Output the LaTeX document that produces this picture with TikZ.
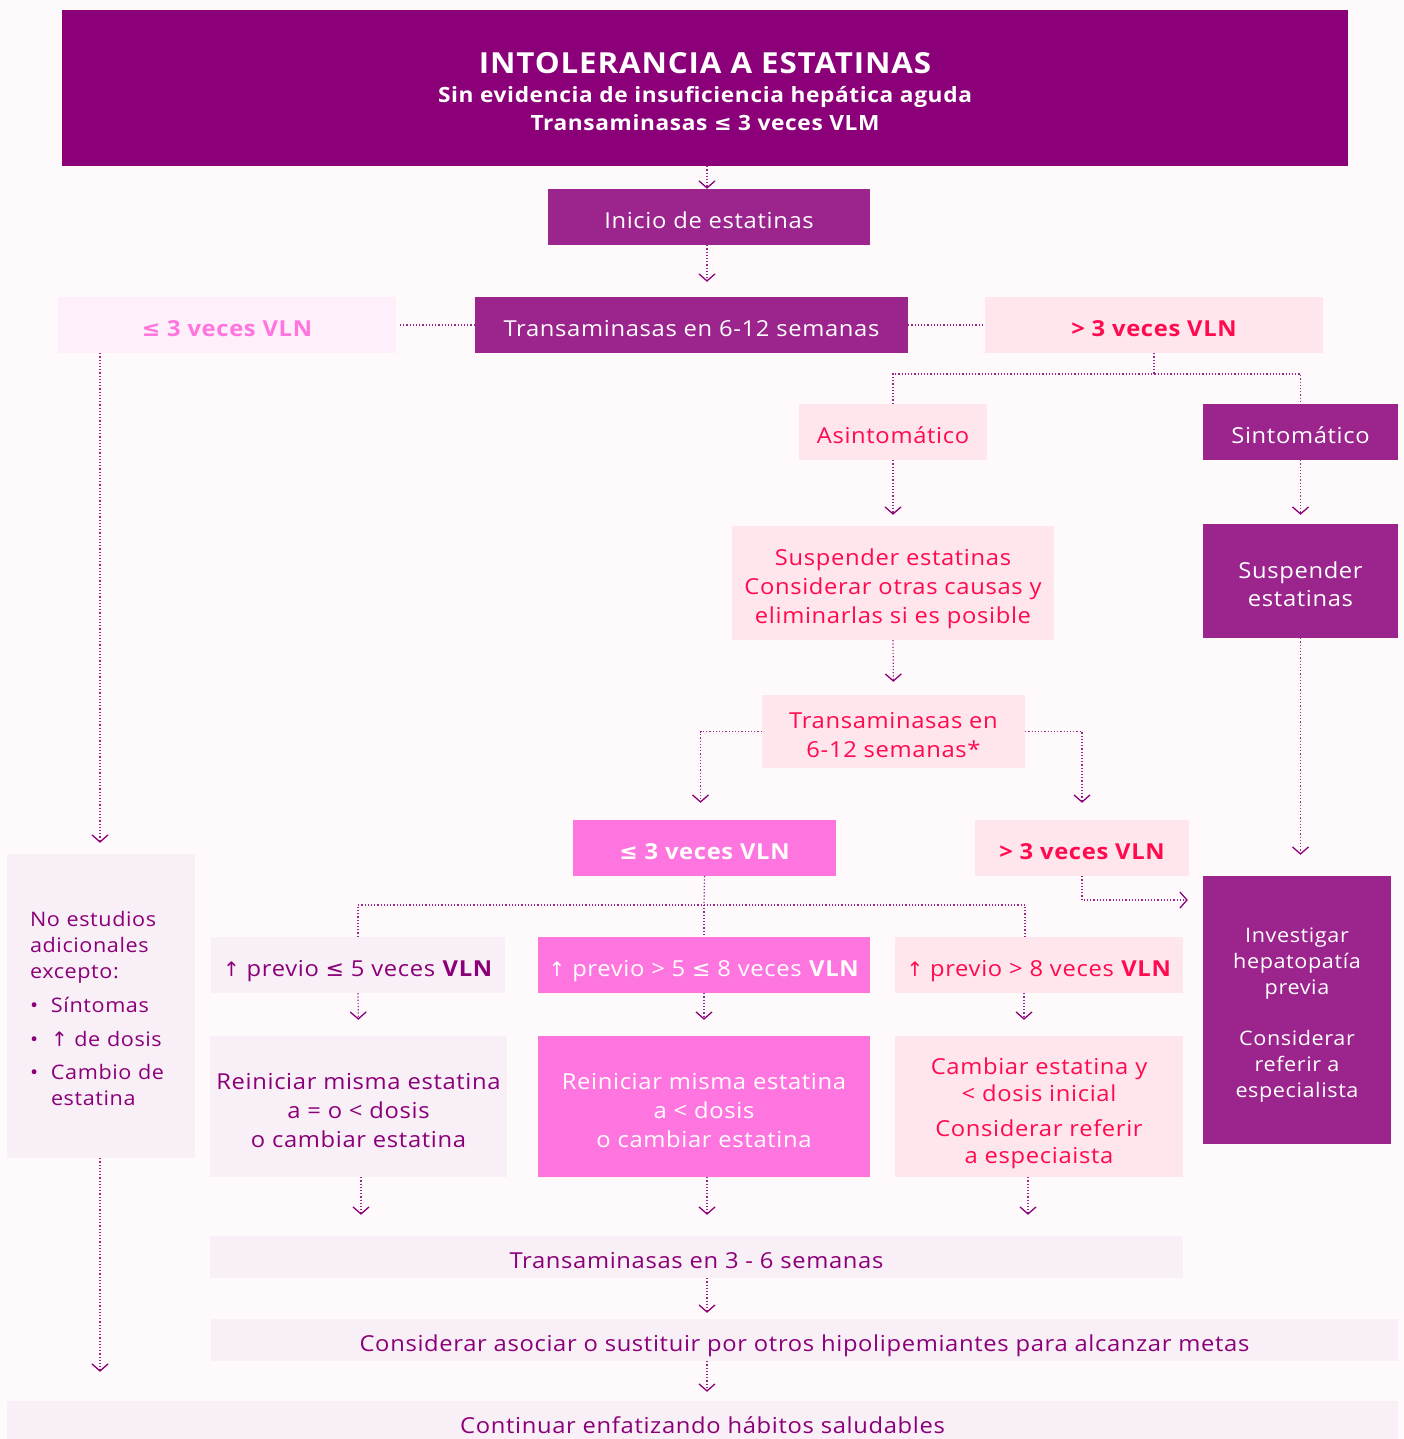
\documentclass[tikz,border=0pt]{standalone}
\usepackage{fontspec}
\setmainfont{Open Sans}[FakeStretch=1.08, LetterSpace=3]
\newfontfamily\dv{DejaVu Sans}
\usetikzlibrary{arrows.meta,calc}
\definecolor{bg}{HTML}{FEFAFC}
\definecolor{dm}{HTML}{8B0078}
\definecolor{pu}{HTML}{9B248D}
\definecolor{hp}{HTML}{FF75E0}
\definecolor{lp}{HTML}{FFE5EC}
\definecolor{rd}{HTML}{FF0A4F}
\definecolor{lv}{HTML}{F8EFF7}
\definecolor{vp}{HTML}{FEEFFA}
\definecolor{lc}{HTML}{9B248D}
\newcommand{\upa}{{\dv\fontsize{20}{20}\selectfont ↑}}
\newcommand{\lesym}{{\dv ≤}}
\newcommand{\tup}[1]{\rule{0pt}{#1pt}}
\tikzset{
  box/.style={rectangle, inner sep=2pt, align=center, font=\fontsize{22}{29}\selectfont},
  sl/.style={text height=23pt, text depth=0pt},
  pbox/.style={box, fill=pu, text=white},
  rbox/.style={box, fill=lp, text=rd},
  lbox/.style={box, fill=lv, text=dm},
  hbox/.style={box, fill=hp, text=white},
  con/.style={draw=lc, line width=1.2pt, dotted},
  arr/.style={con, -{Straight Barb[length=7pt,width=16pt,line width=1.3pt,color=dm]}},
}
\begin{document}
\begin{tikzpicture}[x=1pt,y=-1pt]
\fill[bg] (0,0) rectangle (1404,1439);
\useasboundingbox (0,0) rectangle (1404,1439);

% nodes
\node[box, fill=dm, text=white, minimum width=1286, minimum height=156] (header) at (705,88)
  {{\fontsize{29}{34}\selectfont\bfseries\tup{29}INTOLERANCIA A ESTATINAS}\\[0pt]
   {\fontsize{21}{28}\selectfont\bfseries Sin evidencia de insuficiencia hepática aguda}\\[-1pt]
   {\fontsize{21}{28}\selectfont\bfseries Transaminasas \lesym{} 3 veces VLM}};
\node[pbox, sl, minimum width=322, minimum height=56] (inicio) at (709,217) {Inicio de estatinas};
\node[pbox, sl, minimum width=433, minimum height=56] (trans1) at (691.5,325) {Transaminasas en 6-12 semanas};
\node[box, sl, fill=vp, text=hp, font=\fontsize{22}{29}\selectfont\bfseries, minimum width=338, minimum height=56] (le3a) at (227,325) {\lesym{} 3 veces VLN};
\node[rbox, sl, font=\fontsize{22}{29}\selectfont\bfseries, minimum width=338, minimum height=56] (gt3a) at (1154,325) {> 3 veces VLN};
\node[rbox, sl, minimum width=188, minimum height=56] (asin) at (893,432) {Asintomático};
\node[pbox, sl, minimum width=195, minimum height=56] (sint) at (1300.5,432) {Sintomático};
\node[rbox, minimum width=322, minimum height=114] (susp1) at (893,583) {\tup{28.5}Suspender estatinas\\Considerar otras causas y\\eliminarlas si es posible};
\node[pbox, font=\fontsize{22}{28}\selectfont, minimum width=195, minimum height=114] (susp2) at (1300.5,581) {\tup{23}Suspender\\estatinas};
\node[rbox, minimum width=263, minimum height=73] (trans2) at (893.5,731.5) {\tup{24}Transaminasas en\\6-12 semanas*};
\node[hbox, sl, font=\fontsize{22}{29}\selectfont\bfseries, minimum width=263, minimum height=56] (le3b) at (704.5,848) {\lesym{} 3 veces VLN};
\node[rbox, sl, font=\fontsize{22}{29}\selectfont\bfseries, minimum width=214, minimum height=56] (gt3b) at (1082,848) {> 3 veces VLN};
\node[pbox, font=\fontsize{20}{26}\selectfont, minimum width=188, minimum height=268] (inv) at (1297,1010)
  {\tup{25}Investigar\\hepatopatía\\previa\\[25pt]Considerar\\referir a\\especialista};
\node[lbox, font=\fontsize{20}{26}\selectfont, align=left, text width=142, inner xsep=23, minimum height=304] (noest) at (101,1006)
  {\tup{21}No estudios\\adicionales\\excepto:\\[8pt]
   \makebox[21pt][l]{•}Síntomas\\[8pt]
   \makebox[21pt][l]{•}\upa{} de dosis\\[7pt]
   \makebox[21pt][l]{•}Cambio de\\
   \makebox[21pt][l]{}estatina};
\node[lbox, sl, minimum width=294, minimum height=56] (p1) at (358,965) {\upa{} previo \lesym{} 5 veces \textbf{VLN}};
\node[hbox, sl, inner xsep=0pt, minimum width=332, minimum height=56] (p2) at (704,965) {\upa{} previo > 5 \lesym{} 8 veces \textbf{VLN}};
\node[rbox, sl, minimum width=288, minimum height=56] (p3) at (1039,965) {\upa{} previo > 8 veces \textbf{VLN}};
\node[lbox, minimum width=297, minimum height=141] (r1) at (358.5,1106.5) {\tup{24.5}Reiniciar misma estatina\\a = o < dosis\\o cambiar estatina};
\node[hbox, minimum width=332, minimum height=141] (r2) at (704,1106.5) {\tup{24.5}Reiniciar misma estatina\\a < dosis\\o cambiar estatina};
\node[rbox, font=\fontsize{22}{27}\selectfont, minimum width=288, minimum height=141] (r3) at (1039,1106.5) {\tup{31}Cambiar estatina y\\< dosis inicial\\[8pt]Considerar referir\\a especiaista};
\node[lbox, sl, minimum width=973, minimum height=42] (t36) at (696.5,1257) {Transaminasas en 3 - 6 semanas};
\node[lbox, sl, minimum width=1187, minimum height=42] (cons) at (804.5,1340) {Considerar asociar o sustituir por otros hipolipemiantes para alcanzar metas};
\node[lbox, sl, minimum width=1391, minimum height=41] (cont) at (702.5,1421.5) {Continuar enfatizando hábitos saludables};

% helper positions
\coordinate (ax) at (707,0);
\coordinate (j1) at (1154,374);
\coordinate (j2) at (704,905);
\coordinate (c9) at (1082,900);

% connectors
\draw[arr] (ax |- header.south) -- (ax |- inicio.north);
\draw[arr, shorten >=15pt] (ax |- inicio.south) -- (ax |- trans1.north);
\draw[con] (trans1.west) -- ([xshift=2pt]le3a.east);
\draw[con] (trans1.east) -- (gt3a.west);
\draw[con] (gt3a.south) -- (j1);
\draw[con] (asin.north) |- (j1) -| (sint.north);
\draw[arr, shorten >=11pt] (asin.south) -- (susp1.north);
\draw[arr, shorten >=9pt] (sint.south) -- (susp2.north);
\draw[arr, shorten >=13pt] (susp1.south) -- (trans2.north);
\draw[arr, shorten >=17pt] (trans2.west) -| ([xshift=-4pt]le3b.north);
\draw[arr, shorten >=17pt] (trans2.east) -| (gt3b.north);
\draw[arr, shorten >=15pt] (gt3b.south) -- (c9) -- (c9 -| inv.west);
\draw[arr, shorten >=21pt] (susp2.south) -- (susp2.south |- inv.north);
\draw[con] (le3b.south) -- (j2);
\draw[con] (p1.north) |- (j2) -| ([xshift=-14pt]p3.north);
\draw[con] (j2) -- (p2.north);
\draw[arr, shorten >=16pt] (p1.south) -- (r1.north);
\draw[arr, shorten >=16pt] (p2.south) -- (r2.north);
\draw[arr, shorten >=16pt] ([xshift=-15pt]p3.south) -- ([xshift=-15pt]p3.south |- r3.north);
\draw[arr, shorten >=21pt] ([xshift=2.5pt]r1.south) -- ([xshift=2.5pt]r1.south |- t36.north);
\draw[arr, shorten >=21pt] (ax |- r2.south) -- (ax |- t36.north);
\draw[arr, shorten >=21pt] ([xshift=-11pt]r3.south) -- ([xshift=-11pt]r3.south |- t36.north);
\draw[arr, shorten >=6pt] (ax |- t36.south) -- (ax |- cons.north);
\draw[arr, shorten >=9pt] (ax |- cons.south) -- (ax |- cont.north);
\draw[arr, shorten >=11pt] ([xshift=-1pt]noest.north |- le3a.south) -- ([xshift=-1pt]noest.north);
\draw[arr, shorten >=29pt] ([xshift=-1pt]noest.south) -- ([xshift=-1pt]noest.south |- cont.north);
\end{tikzpicture}
\end{document}
